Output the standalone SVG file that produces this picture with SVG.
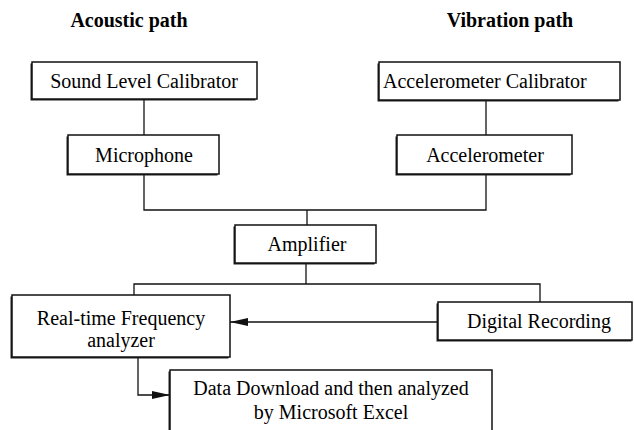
<svg xmlns="http://www.w3.org/2000/svg" width="634" height="430" viewBox="0 0 634 430" font-family="'Liberation Serif', 'Times New Roman', Tinos, serif">
<defs>
<marker id="ah" markerWidth="18" markerHeight="8" refX="18" refY="4" orient="auto" markerUnits="userSpaceOnUse">
<path d="M0,0 L18,4 L0,8 Z" fill="#111"/>
</marker>
</defs>
<rect width="634" height="430" fill="#fff"/>
<text font-family="Times New Roman, serif" font-size="20" font-weight="bold" x="129" y="27" text-anchor="middle">Acoustic path</text>
<text font-family="Times New Roman, serif" font-size="20" font-weight="bold" x="510" y="27" text-anchor="middle">Vibration path</text>
<g id="connectors" fill="none" stroke="#111" stroke-width="1.3">
<path d="M144,99 V135"/>
<path d="M486,100 V135"/>
<path d="M144,174 V210 H486 V174"/>
<path d="M307,210 V225"/>
<path d="M306,263 V284"/>
<path d="M134,295 V284 H540 V302"/>
<path d="M438,322 H230" marker-end="url(#ah)"/>
<path d="M138,357 V395 H170" marker-end="url(#ah)"/>
</g>
<g id="slc">
<rect fill="#222" x="30.5" y="63.5" width="225" height="37"/>
<rect fill="#fff" stroke="#111" stroke-width="1.5" x="32" y="62" width="225" height="37"/>
<text font-family="Times New Roman, serif" font-size="20" x="144" y="88" text-anchor="middle">Sound Level Calibrator</text>
</g>
<g id="mic">
<rect fill="#222" x="66.5" y="136.5" width="151" height="39"/>
<rect fill="#fff" stroke="#111" stroke-width="1.5" x="68" y="135" width="151" height="39"/>
<text font-family="Times New Roman, serif" font-size="20" x="144" y="162" text-anchor="middle">Microphone</text>
</g>
<g id="acal">
<rect fill="#222" x="377.5" y="63.5" width="241" height="38"/>
<rect fill="#fff" stroke="#111" stroke-width="1.5" x="379" y="62" width="241" height="38"/>
<text font-family="Times New Roman, serif" font-size="20" x="383" y="88">Accelerometer Calibrator</text>
</g>
<g id="acc">
<rect fill="#222" x="395.5" y="136.5" width="175" height="39"/>
<rect fill="#fff" stroke="#111" stroke-width="1.5" x="397" y="135" width="175" height="39"/>
<text font-family="Times New Roman, serif" font-size="20" x="485" y="162" text-anchor="middle">Accelerometer</text>
</g>
<g id="amp">
<rect fill="#222" x="233.5" y="226.5" width="141" height="38"/>
<rect fill="#fff" stroke="#111" stroke-width="1.5" x="235" y="225" width="141" height="38"/>
<text font-family="Times New Roman, serif" font-size="20" x="307" y="251" text-anchor="middle">Amplifier</text>
</g>
<g id="rtfa">
<rect fill="#222" x="10.5" y="296.5" width="218" height="62"/>
<rect fill="#fff" stroke="#111" stroke-width="1.5" x="12" y="295" width="218" height="62"/>
<text font-family="Times New Roman, serif" font-size="20" x="121" y="325" text-anchor="middle">Real-time Frequency</text>
<text font-family="Times New Roman, serif" font-size="20" x="121" y="347" text-anchor="middle">analyzer</text>
</g>
<g id="dr">
<rect fill="#222" x="436.5" y="303.5" width="195" height="38"/>
<rect fill="#fff" stroke="#111" stroke-width="1.5" x="438" y="302" width="194" height="38"/>
<text font-family="Times New Roman, serif" font-size="20" x="539" y="328" text-anchor="middle">Digital Recording</text>
</g>
<g id="data">
<rect fill="#222" x="168.5" y="371.5" width="322" height="70"/>
<rect fill="#fff" stroke="#111" stroke-width="1.5" x="170" y="370" width="322" height="70"/>
<text font-family="Times New Roman, serif" font-size="20" x="331" y="395" text-anchor="middle">Data Download and then analyzed</text>
<text font-family="Times New Roman, serif" font-size="20" x="331" y="419" text-anchor="middle">by Microsoft Excel</text>
</g>
</svg>
